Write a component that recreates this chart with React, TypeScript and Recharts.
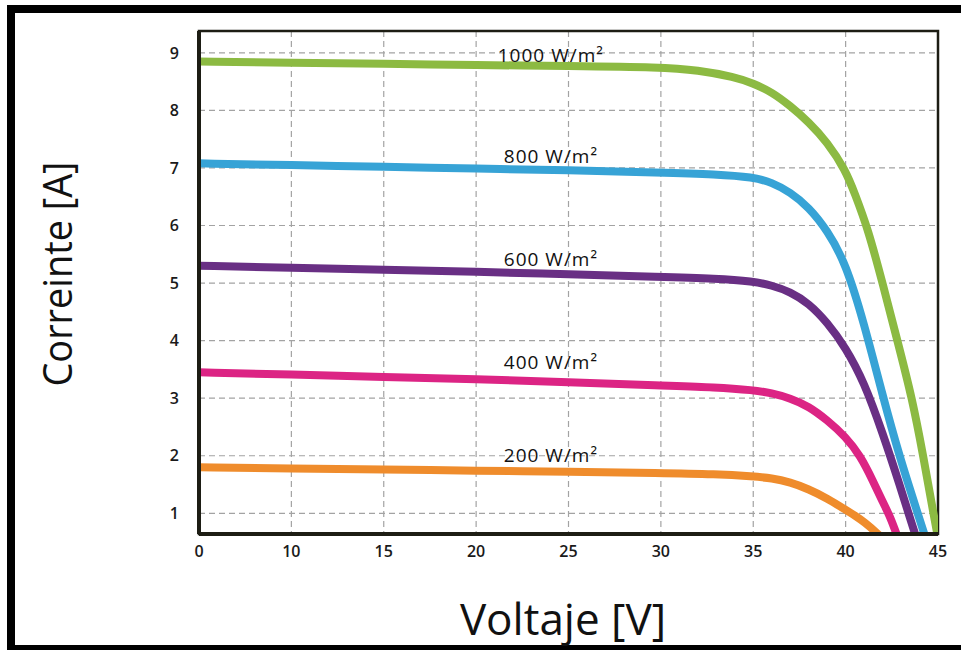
import { LineChart, Line, XAxis, YAxis, CartesianGrid, ReferenceDot, ReferenceArea } from "recharts";

// irradiance curves (voltage in V, current in A)
const v1000 = [5, 10, 15, 20, 25, 30, 32, 34, 35, 36, 37, 38, 39, 40, 40.5, 41.2, 42, 42.8, 43.6, 44.2, 44.75, 45.1];
const i1000 = [8.85, 8.83, 8.81, 8.79, 8.77, 8.75, 8.7, 8.58, 8.47, 8.32, 8.08, 7.8, 7.45, 6.96, 6.55, 5.95, 5.0, 4.0, 3.0, 2.0, 1.0, 0.4];

const v800 = [5, 10, 15, 20, 25, 30, 33, 35, 36, 37, 38, 39, 40, 41, 42, 42.9, 43.9, 44.5];
const i800 = [7.08, 7.05, 7.02, 6.99, 6.96, 6.92, 6.89, 6.84, 6.75, 6.58, 6.32, 5.92, 5.35, 4.3, 3.05, 2.0, 1.0, 0.4];

const v600 = [5, 10, 15, 20, 25, 30, 33, 35, 36, 37, 38, 39, 40, 41, 42, 43, 43.4, 44];
const i600 = [5.3, 5.27, 5.23, 5.2, 5.15, 5.11, 5.08, 5.03, 4.96, 4.85, 4.65, 4.32, 3.88, 3.28, 2.4, 1.42, 1.0, 0.4];

const v400 = [5, 10, 15, 20, 25, 30, 33, 35, 36, 37, 38, 39, 40, 40.8, 41.5, 42, 42.4, 42.8, 43.2];
const i400 = [3.45, 3.41, 3.37, 3.33, 3.28, 3.22, 3.19, 3.14, 3.09, 3.0, 2.86, 2.62, 2.33, 2.0, 1.55, 1.2, 0.95, 0.6, 0.25];

const v200 = [5, 10, 15, 20, 25, 30, 33, 35, 36, 37, 38, 39, 40, 40.5, 41, 41.8, 42.3];
const i200 = [1.8, 1.78, 1.76, 1.74, 1.72, 1.7, 1.68, 1.64, 1.61, 1.54, 1.42, 1.26, 1.06, 0.96, 0.85, 0.63, 0.45];

const seriesNames = ["1000 W/m²", "800 W/m²", "600 W/m²", "400 W/m²", "200 W/m²"];
const seriesColors = ["#8cba42", "#37a3d6", "#692f84", "#dc2484", "#ef8c2c"];
const labelV = [21.17, 21.5, 21.5, 21.5, 21.5];
const labelI = [8.96, 7.2, 5.41, 3.63, 2.01];

const xTicks = [5, 10, 15, 20, 25, 30, 35, 40, 45];
const xTickLabels = ["0", "10", "15", "20", "25", "30", "35", "40", "45"];
const yTicks = [1, 2, 3, 4, 5, 6, 7, 8, 9];

const toPoints = (v: number[], i: number[]) => v.map((x, k) => ({ v: x, i: i[k] }));
const series = [
  toPoints(v1000, i1000),
  toPoints(v800, i800),
  toPoints(v600, i600),
  toPoints(v400, i400),
  toPoints(v200, i200),
];

const ink = "#1d1d14";
const font = "'Open Sans', sans-serif";

export default function App() {
  return (
    <div style={{ position: "absolute", left: 0, top: 0, width: 961, height: 650, background: "#fff" }}>
      {/* outer frame */}
      <div style={{ position: "absolute", left: 7, top: 5, width: 954, height: 8, background: "#000" }} />
      <div style={{ position: "absolute", left: 7, top: 5, width: 8, height: 645, background: "#000" }} />
      <div style={{ position: "absolute", left: 7, top: 645, width: 954, height: 5, background: "#000" }} />

      <div style={{ position: "absolute", left: 0, top: 0 }}>
        <LineChart width={961} height={650} margin={{ top: 31, right: 23, bottom: 0, left: 0 }}>
          <CartesianGrid stroke="#a3a3a3" strokeDasharray="6 4" strokeWidth={1.2} />
          <XAxis
            type="number"
            dataKey="v"
            domain={[5, 45]}
            ticks={xTicks}
            tickFormatter={(t: number) => xTickLabels[xTicks.indexOf(t)]}
            height={116}
            axisLine={{ stroke: ink, strokeWidth: 4 }}
            tickLine={false}
            tickSize={0}
            tickMargin={12}
            tick={{ fill: "#1a1a1a", fontSize: 16, fontFamily: font, fontWeight: 600 }}
            allowDataOverflow
          />
          <YAxis
            type="number"
            domain={[0.64, 9.38]}
            ticks={yTicks}
            width={199}
            axisLine={{ stroke: ink, strokeWidth: 4 }}
            tickLine={false}
            tickSize={0}
            tickMargin={20}
            tick={{ fill: "#1a1a1a", fontSize: 16, fontFamily: font, fontWeight: 600 }}
            allowDataOverflow
          />
          <ReferenceArea
            x1={5}
            x2={45}
            y1={0.64}
            y2={9.38}
            fill="none"
            stroke={ink}
            strokeWidth={2.5}
            ifOverflow="visible"
          />
          {series.map((d, k) => (
            <Line
              key={seriesNames[k]}
              data={d}
              dataKey="i"
              type="basis"
              stroke={seriesColors[k]}
              strokeWidth={8}
              dot={false}
              activeDot={false}
              isAnimationActive={false}
            />
          ))}
          {seriesNames.map((name, k) => (
            <ReferenceDot
              key={"lbl" + name}
              x={labelV[k]}
              y={labelI[k]}
              r={0}
              ifOverflow="visible"
              label={{
                value: name,
                position: "right",
                offset: 0,
                fill: "#111",
                fontSize: 19,
                letterSpacing: 1,
                fontFamily: font,
              }}
            />
          ))}
        </LineChart>
      </div>

      <svg width={961} height={650} style={{ position: "absolute", left: 0, top: 0, pointerEvents: "none" }}>
        <text x={563} y={635} textAnchor="middle" fontSize={44} fontFamily={font} fill="#111">
          Voltaje [V]
        </text>
        <text
          x={72}
          y={274}
          textAnchor="middle"
          fontSize={41}
          fontFamily={font}
          fill="#111"
          textLength={225}
          lengthAdjust="spacingAndGlyphs"
          transform="rotate(-90 72 274)"
        >
          Correinte [A]
        </text>
      </svg>
    </div>
  );
}
